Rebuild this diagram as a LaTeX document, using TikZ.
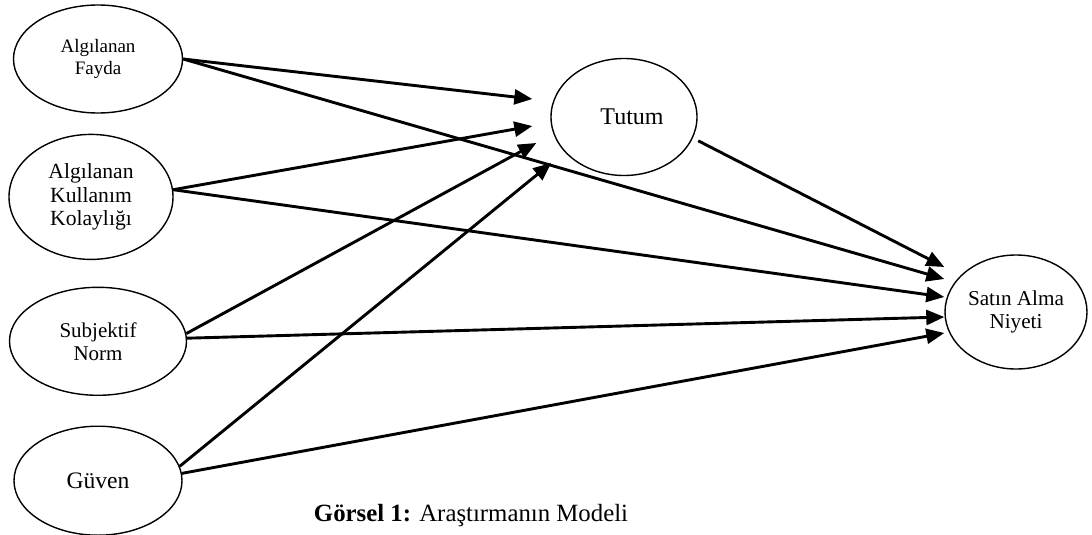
\documentclass[tikz,border=0pt]{standalone}
\usepackage{fontspec}
\setmainfont{Liberation Serif}
\usetikzlibrary{positioning}
\usetikzlibrary{arrows.meta}
\usetikzlibrary{shapes.geometric}

\tikzset{
  construct/.style={draw, ellipse, line width=0.7pt, inner sep=0pt, align=center},
  link/.style={line width=1.45pt, -{Triangle[length=9pt, width=7.5pt]}},
}

\begin{document}
\begin{tikzpicture}[x=0.5pt, y=-0.5pt]
    \useasboundingbox (0,0) rectangle (1092,535);

    % left column
    \node[construct, minimum width=84.5pt, minimum height=54pt, font=\fontsize{9.5}{11}\selectfont] (fayda) at (98,59) {Algılanan\\Fayda};
    \node[construct, below=10pt of fayda, xshift=-3.5pt, minimum width=82pt, minimum height=62.5pt, font=\fontsize{10.8}{11.8}\selectfont] (kolay) {Algılanan\\Kullanım\\Kolaylığı};
    \node[construct, below=13.25pt of kolay, xshift=3.5pt, minimum width=88.5pt, minimum height=54pt, font=\fontsize{10.5}{11.5}\selectfont] (norm) {Subjektif\\Norm};
    \node[construct, below=14.75pt of norm, minimum width=84pt, minimum height=54.5pt, font=\fontsize{11.8}{13}\selectfont] (guven) {Güven};

    % mediator and outcome
    \node[construct, minimum width=73pt, minimum height=58.5pt, font=\fontsize{12}{14}\selectfont] (tutum) at (624,117) {\hspace*{8pt}Tutum};
    \node[construct, minimum width=71pt, minimum height=57pt, font=\fontsize{10.6}{11.5}\selectfont] (niyet) at (1016,312) {Satın Alma\\Niyeti};

    % paths to Tutum
    \draw[link] (fayda.east) -- ([shift={(-9pt,9pt)}]tutum.west);
    \draw[link] (kolay.5) -- ([shift={(-9pt,-4.5pt)}]tutum.west);
    \draw[link] (norm.5) -- ([shift={(-7pt,-13pt)}]tutum.west);
    \draw[link] (guven.10) -- ([shift={(0.5pt,-23pt)}]tutum.west);

    % paths to Satın Alma Niyeti
    \draw[link, shorten <=3pt] (tutum.-17) -- ([yshift=22.5pt]niyet.west);
    \draw[link] (fayda.east) -- ([yshift=16.5pt]niyet.west);
    \draw[link] (kolay.5) -- ([yshift=7.5pt]niyet.west);
    \draw[link] (norm.2) -- ([yshift=-2.5pt]niyet.west);
    \draw[link] (guven.5) -- ([yshift=-10.5pt]niyet.west);

    % caption
    \node[anchor=base, font=\fontsize{12.4}{14}\selectfont] (caption) at (471,521) {\textbf{Görsel 1:} Araştırmanın Modeli};
\end{tikzpicture}
\end{document}
